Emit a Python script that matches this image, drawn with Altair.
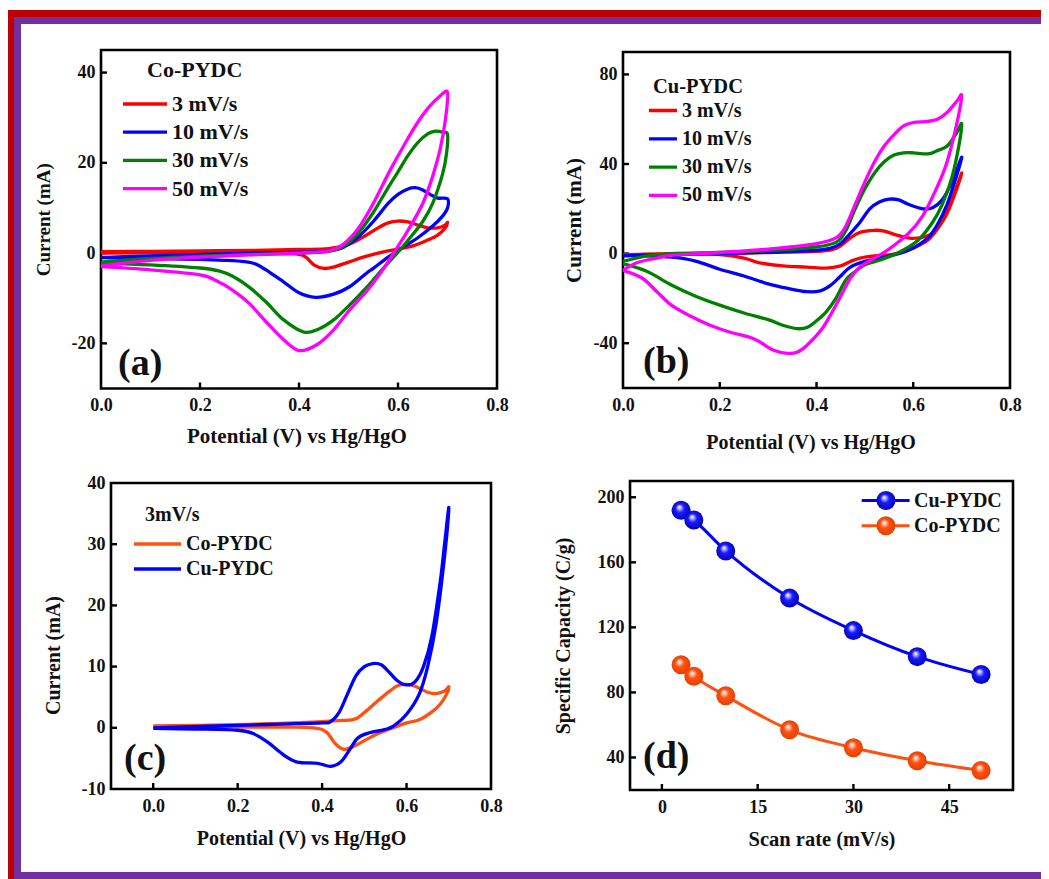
import altair as alt
import pandas as pd

W, H = 1033, 871
FONT = "Liberation Serif"
INK = "#111111"

# ---- panel (a) Co-PYDC
A3_V = [0,.1,.2,.3,.4,.46,.5,.53,.56,.58,.6,.62,.64,.66,.68,.695,.7,.695,.68,.66,.63,.6,.56,.53,.5,.47,.45,.43,.415,.4,.35,.2,.1,0]
A3_I = [.3,.4,.5,.6,.8,1,1.9,3.6,5.6,6.7,7.1,6.9,6.2,5.6,5.6,6.2,6.8,5.5,4,2.9,1.6,.9,0,-.9,-2,-3.1,-3.4,-2.6,-1,-.3,0,.1,.1,0]
A10_V = [0,.1,.2,.3,.4,.46,.49,.52,.55,.58,.6,.62,.635,.65,.665,.68,.7,.7,.69,.67,.64,.61,.58,.55,.537,.503,.47,.433,.4,.368,.34,.314,.29,.25,.2,.1,0]
A10_I = [-1,-.6,-.3,0,.2,.5,1.3,3.6,7,11,13,14.2,14.5,14,13,12.2,12,10,8.2,6,3.4,1.3,-.9,-3.4,-4.4,-7.4,-9.1,-9.8,-8.8,-6.3,-4.2,-2.5,-1.9,-1.6,-1.4,-1.2,-1]
A30_V = [0,.1,.2,.3,.4,.46,.49,.52,.55,.58,.6,.62,.64,.66,.675,.69,.7,.698,.69,.67,.65,.62,.6,.57,.54,.503,.47,.44,.41,.369,.335,.3,.267,.24,.2,.1,0]
A30_I = [-2,-1.2,-.7,-.3,0,.4,1.5,4.5,9,14.5,18,21.6,24.5,26.4,27,26.8,26.3,22,17.5,11,7,2.8,.2,-3.4,-7.2,-11.4,-14.8,-16.8,-17.5,-14.8,-11,-7.6,-5.2,-4,-3.3,-2.6,-2.2]
A50_V = [0,.1,.2,.3,.4,.46,.49,.52,.55,.58,.6,.62,.64,.66,.68,.7,.695,.685,.67,.65,.62,.6,.57,.54,.503,.47,.436,.4,.369,.335,.3,.267,.234,.2,.1,0]
A50_I = [-2.8,-1.6,-.9,-.4,0,.5,2,5.5,11,17.5,21.5,25.4,29,32,34.3,35.6,29,23,17,11,5,1.5,-3.6,-8,-12.5,-17,-20.3,-21.6,-19.2,-15.4,-11.2,-8.3,-6.2,-4.8,-3.7,-3]

# ---- panel (b) Cu-PYDC
B3_V = [0,.2,.3,.4,.43,.45,.47,.49,.52,.54,.57,.6,.63,.65,.67,.69,.7,.69,.67,.65,.63,.6,.58,.55,.52,.49,.47,.45,.42,.38,.33,.28,.25,.2,.1,0]
B3_I = [-.5,0,.5,1,1.6,3.5,7,9.5,10.4,10,8,6.8,8,11,19,30,36,29,18,11,6,2.5,.8,-.6,-1,-2,-3.5,-5.5,-6.5,-6,-5.5,-4,-2,-.4,0,-.5]
B10_V = [0,.1,.2,.3,.4,.43,.45,.47,.49,.51,.53,.55,.57,.59,.62,.64,.66,.68,.7,.69,.67,.65,.63,.6,.57,.54,.5,.47,.45,.43,.41,.38,.34,.3,.25,.2,.16,.12,.05,0]
B10_I = [-1,-.4,0,.6,1.5,2.5,4.5,9,14,20,23,24.3,24,22,20,20.5,24,32,43,35,22,13,7,2.5,0,-1.5,-3.5,-6,-10,-14,-16.5,-17,-15.5,-13.5,-10,-7,-4,-2,-1,-1]
B30_V = [0,.05,.1,.2,.3,.4,.44,.46,.48,.5,.52,.54,.56,.58,.6,.63,.65,.67,.69,.7,.695,.68,.66,.64,.61,.57,.53,.5,.48,.46,.44,.42,.4,.38,.36,.33,.3,.25,.2,.15,.1,.05,0]
B30_I = [-3.5,-1,0,.5,1.3,3,5,10,20,29,36,41,44,45,45,44.5,46,48,54,58,49,34,22,14,6,.5,-3,-5,-8,-12,-20,-26,-30,-33,-33.5,-32,-29.5,-26.5,-23,-19,-14,-8,-4.5]
B50_V = [0,.03,.07,.1,.2,.3,.4,.44,.46,.48,.5,.52,.54,.56,.58,.6,.63,.65,.67,.69,.7,.69,.67,.65,.62,.59,.55,.52,.49,.47,.45,.43,.41,.38,.36,.34,.31,.27,.22,.18,.14,.1,.07,.04,0]
B50_I = [-7.5,-4,-2,-.8,.5,2,4.5,7,12,22,32,41,48,53,57,58.5,59,60,63,68,70.5,58,41,30,17,9,2,-2,-6,-11,-19,-27,-34,-41,-44,-44.5,-43,-38,-35,-32,-28,-23,-17,-11,-7.5]

# ---- panel (c) 3 mV/s
C_CO_V = [0,.1,.3,.45,.48,.5,.53,.56,.58,.6,.62,.65,.67,.69,.7,.695,.68,.66,.63,.6,.56,.53,.5,.47,.45,.43,.41,.38,.3,.1,0]
C_CO_I = [.3,.4,.7,1.2,1.5,2.5,4.3,6,6.9,7.1,6.8,5.8,5.6,6,6.7,5.5,3.9,2.6,1.3,.8,-.2,-1,-2.1,-3.2,-3.5,-2.5,-.7,0,.1,.1,.2]
C_CU_V = [0,.2,.3,.4,.42,.44,.46,.48,.5,.52,.54,.56,.58,.6,.62,.64,.66,.68,.69,.7,.69,.67,.65,.63,.6,.57,.548,.508,.484,.464,.444,.42,.389,.341,.31,.27,.235,.2,.1,0]
C_CU_I = [0,.4,.6,.8,1,2.5,5.5,8.5,10,10.5,10.3,9,7.6,7,7.5,10,15,24,30,36,28,17,10,5.5,2.2,.3,-.3,-.9,-1.7,-3.7,-5.6,-6.3,-5.8,-5.6,-4.5,-2.3,-.9,-.4,-.2,-.1]

# ---- panel (d) capacity
D_RATE = [3, 5, 10, 20, 30, 40, 50]
D_CU = [192, 186, 167, 138, 118, 102, 91]
D_CO = [97, 90, 78, 57, 46, 38, 32]

RATES = ["3 mV/s", "10 mV/s", "30 mV/s", "50 mV/s"]
RATE_COLORS = ["#FF0000", "#0000FF", "#008000", "#FF00FF"]
MATERIALS = ["Co-PYDC", "Cu-PYDC"]
MATERIAL_COLORS = ["#FF5010", "#0000FF"]


def loops(items):
    rows = []
    for name, vs, cs in items:
        rows += [{"v": v, "i": c, "s": name, "k": k} for k, (v, c) in enumerate(zip(vs, cs))]
    return pd.DataFrame(rows)


def x_axis(xb, xt, title, size, values, fmt, pad, cx=alt.Undefined):
    return alt.Axis(orient="bottom", offset=xb - H, title=title, titleFontSize=size, titlePadding=pad,
                    titleX=cx, values=values, format=fmt, ticks=False, domain=False, grid=False,
                    labelPadding=xt, labelFontSize=18)


def y_axis(xl, title, size, values, pad, cy=alt.Undefined):
    return alt.Axis(orient="left", offset=-xl, title=title, titleFontSize=size, titlePadding=pad,
                    titleY=cy, values=values, labelExpr="'' + datum.value", ticks=False, domain=False, grid=False,
                    labelPadding=6, labelFontSize=18)


def panel(xr, yr, xd, yd, xt, yt, xax, yax, marks):
    sx = alt.Scale(domain=xd, range=xr, nice=False, zero=False)
    sy = alt.Scale(domain=yd, range=yr, nice=False, zero=False)
    def fx(f):
        return alt.X(f, scale=sx, axis=xax)
    def fy(f):
        return alt.Y(f, scale=sy, axis=yax)
    box = alt.Chart(pd.DataFrame({"xv": [xd[0]], "x1": [xd[1]], "yv": [yd[0]], "y1": [yd[1]]})).mark_rect(
        fillOpacity=0, stroke="#000000", strokeWidth=2.6
    ).encode(x=fx("xv:Q"), x2="x1:Q", y=fy("yv:Q"), y2="y1:Q")
    xticks = alt.Chart(pd.DataFrame({"xv": xt})).mark_rule(color="#000000", strokeWidth=2.4).encode(
        x=fx("xv:Q"), y=alt.value(yr[0]), y2=alt.value(yr[0] - 6))
    yticks = alt.Chart(pd.DataFrame({"yv": yt})).mark_rule(color="#000000", strokeWidth=2.4).encode(
        y=fy("yv:Q"), x=alt.value(xr[0]), x2=alt.value(xr[0] + 6))
    return alt.layer(box, xticks, yticks, *marks(fx, fy))


def word(text, x, y, size):
    return alt.Chart(pd.DataFrame({"t": [text]})).mark_text(
        font=FONT, fontWeight="bold", fontSize=size, align="left", baseline="alphabetic", color=INK
    ).encode(text="t:N", x=alt.value(x), y=alt.value(y))


def cv(df, fx, fy, names, colors, lx, ly, sym, lab, rowpad, lsize):
    return alt.Chart(df).mark_line(interpolate="cardinal", strokeWidth=3.3, strokeJoin="round").encode(
        x=fx("v:Q"),
        y=fy("i:Q"),
        order="k:Q",
        color=alt.Color("s:N", scale=alt.Scale(domain=names, range=colors), legend=alt.Legend(
            orient="none", legendX=lx, legendY=ly, title=None, symbolType="stroke", symbolSize=sym,
            symbolStrokeWidth=3.3, clipHeight=20, rowPadding=rowpad, labelFontSize=lsize, labelOffset=lab,
            labelFont=FONT, labelFontWeight="bold", labelColor=INK, padding=0)),
    )


def rect(color, x, x2, y, y2):
    return alt.Chart(pd.DataFrame({"a": [0]})).mark_rect(color=color).encode(
        x=alt.value(x), x2=alt.value(x2), y=alt.value(y), y2=alt.value(y2))


frame = alt.layer(
    rect("#C00000", 0, W, 2, 9), rect("#C00000", 0, 6, 2, H),
    rect("#7030A0", 6, W, 9, 16), rect("#7030A0", 6, 13, 9, H), rect("#7030A0", 6, W, 864, H),
)

XT = [0.2, 0.4, 0.6]
XV = [0.0, 0.2, 0.4, 0.6, 0.8]
POT = "Potential (V) vs Hg/HgO"

# (a)
a_df = loops([(RATES[0], A3_V, A3_I), (RATES[1], A10_V, A10_I), (RATES[2], A30_V, A30_I), (RATES[3], A50_V, A50_I)])
pa = panel([93, 489], [380.5, 42], [0, 0.8], [-30, 45], XT, [40, 20, 0, -20],
           x_axis(380.5, 8, POT, 21, XV, ".1f", 11, cx=288.5), y_axis(93, "Current (mA)", 19, [40, 20, 0, -20], 18),
           lambda fx, fy: [cv(a_df, fx, fy, RATES, RATE_COLORS, 113, 86, 1936, 3, 6.2, 22),
                           word("Co-PYDC", 139, 69, 22), word("(a)", 110, 367, 38)])
# (b)
b_df = loops([(RATES[0], B3_V, B3_I), (RATES[1], B10_V, B10_I), (RATES[2], B30_V, B30_I), (RATES[3], B50_V, B50_I)])
pb = panel([615, 1002], [380, 44], [0, 0.8], [-60, 90], XT, [80, 40, 0, -40],
           x_axis(380, 8, POT, 20, XV, ".1f", 18, cx=802.5), y_axis(615, "Current (mA)", 21, [80, 40, 0, -40], 9),
           lambda fx, fy: [cv(b_df, fx, fy, RATES, RATE_COLORS, 639, 92.5, 784, 3, 8.3, 20),
                           word("Cu-PYDC", 645, 85, 20.5), word("(b)", 635, 365, 38)])
# (c)
c_df = loops([(MATERIALS[0], C_CO_V, C_CO_I), (MATERIALS[1], C_CU_V, C_CU_I)])
pc = panel([103, 483], [781, 475], [-0.1, 0.8], [-10, 40], [0.0, 0.2, 0.4, 0.6], [30, 20, 10, 0],
           x_axis(781, 8, POT, 20, XV, ".1f", 13), y_axis(103, "Current (mA)", 20, [40, 30, 20, 10, 0, -10], 18, cy=647),
           lambda fx, fy: [cv(c_df, fx, fy, MATERIALS, MATERIAL_COLORS, 124, 526, 2209, 3, 5, 20),
                           word("3mV/s", 137, 513, 20), word("(c)", 116, 762, 38)])


def ball(c0, c1):
    return {"gradient": "radial", "x1": 0.4, "y1": 0.33, "r1": 0.02, "x2": 0.5, "y2": 0.5, "r2": 0.55,
            "stops": [{"offset": 0, "color": "#FFFFFF"}, {"offset": 0.4, "color": c0},
                      {"offset": 1, "color": c1}]}


def cap_marks(fx, fy):
    out = []
    for name, vals, line, c0, c1, ly in [("Cu-PYDC", D_CU, "#0000FF", "#1A1AFF", "#0000B0", 198),
                                         ("Co-PYDC", D_CO, "#FF5010", "#FF5010", "#E04000", 182.5)]:
        df = pd.DataFrame({"xv": D_RATE, "yv": vals})
        out.append(alt.Chart(df).mark_line(interpolate="monotone", color=line, strokeWidth=3).encode(x=fx("xv:Q"), y=fy("yv:Q")))
        out.append(alt.Chart(df).mark_point(filled=True, size=361, fill=ball(c0, c1), opacity=1, strokeWidth=0).encode(x=fx("xv:Q"), y=fy("yv:Q")))
        key = pd.DataFrame({"xv": [31.3, 38.8], "yv": [ly, ly]})
        out.append(alt.Chart(key).mark_line(color=line, strokeWidth=3).encode(x=fx("xv:Q"), y=fy("yv:Q")))
        dot = pd.DataFrame({"xv": [35.1], "yv": [ly]})
        out.append(alt.Chart(dot).mark_point(filled=True, size=361, fill=ball(c0, c1), opacity=1, strokeWidth=0).encode(x=fx("xv:Q"), y=fy("yv:Q")))
    out.append(word("Cu-PYDC", 906, 499, 20))
    out.append(word("Co-PYDC", 906, 524, 20))
    out.append(word("(d)", 635, 760, 38))
    return out


pd_ = panel([622, 1005], [782, 473], [-5, 55], [20, 210], [0, 15, 30, 45], [200, 160, 120, 80, 40],
            x_axis(782, 8, "Scan rate (mV/s)", 20.5, [0, 15, 30, 45], "d", 13),
            y_axis(622, "Specific Capacity (C/g)", 20, [200, 160, 120, 80, 40], 24),
            cap_marks)

chart = alt.layer(frame, pa, pb, pc, pd_).resolve_scale(
    x="independent", y="independent", color="independent"
).resolve_axis(x="independent", y="independent").resolve_legend(color="independent").properties(
    width=W, height=H, padding=0, autosize=alt.AutoSizeParams(type="none"), background="white"
).configure_view(stroke=None).configure_axis(
    labelFont=FONT, titleFont=FONT, labelFontWeight="bold", titleFontWeight="bold",
    labelColor=INK, titleColor=INK, labelOverlap=False, labelBound=False, labelFlush=False,
)

chart.save("out.html", embed_options={"renderer": "svg", "actions": False})
